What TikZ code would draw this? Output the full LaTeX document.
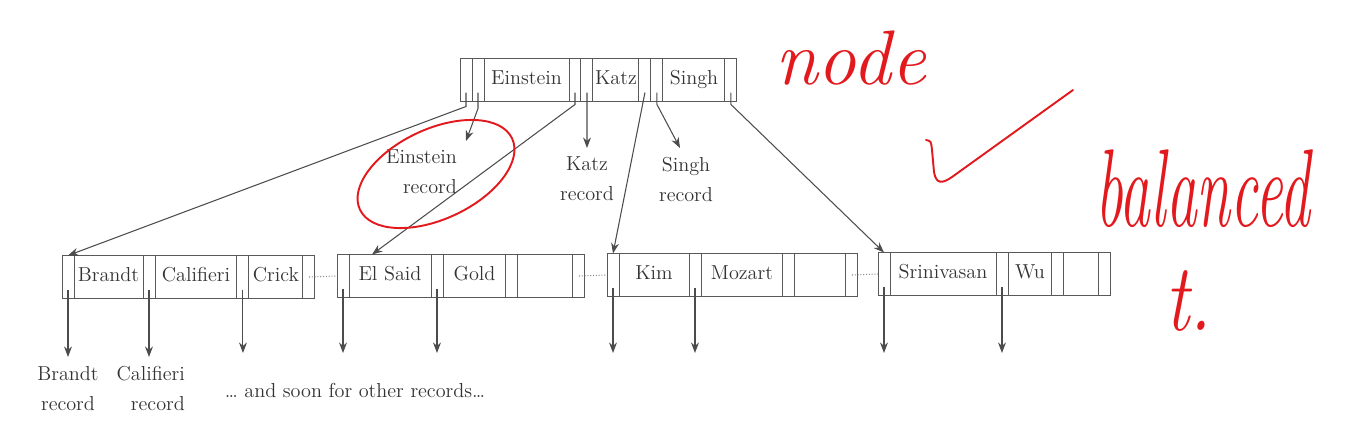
\documentclass[tikz,border=0pt]{standalone}
\usepackage{xcolor}
\usepackage{tikz}
\usetikzlibrary{positioning}
\usetikzlibrary{arrows.meta}
\definecolor{inkred}{RGB}{226,26,30}

\begin{document}
\begin{tikzpicture}[x=0.02cm, y=-0.02cm,
	every node/.style={font=\fontsize{11.5}{17}\selectfont, text=black!80},
	ptr/.style={draw=black!65, line width=0.55pt, minimum width=0.24cm, minimum height=0.86cm, inner sep=0pt, outer sep=0pt},
	key/.style={ptr, text height=1.6ex, text depth=0.45ex},
	link/.style={draw=black!70, line width=0.6pt, -{Stealth[length=6pt, width=4.5pt]}},
	nextleaf/.style={draw=black!45, line width=0.6pt, densely dotted},
	rec/.style={inner sep=5pt},
	ink/.style={draw=inkred, line width=1.1pt, line cap=round, line join=round},
	hand/.style={text=inkred, anchor=base west, inner sep=0pt}]

	\useasboundingbox (0,0) rectangle (1346,440);

	\node [ptr, anchor=west] (r1) at (460,80) {};
	\node [ptr] (r2) [right=0pt of r1] {};
	\node [key, minimum width=1.70cm] (k1) [right=0pt of r2] {Einstein};
	\node [ptr] (r3) [right=0pt of k1] {};
	\node [ptr] (r4) [right=0pt of r3] {};
	\node [key, minimum width=0.92cm] (k2) [right=0pt of r4] {Katz};
	\node [ptr] (r5) [right=0pt of k2] {};
	\node [ptr] (r6) [right=0pt of r5] {};
	\node [key, minimum width=1.24cm] (k3) [right=0pt of r6] {Singh};
	\node [ptr] (r7) [right=0pt of k3] {};

	\node [ptr, anchor=west] (a1) at (62,277) {};
	\node [key, minimum width=1.38cm] (ka1) [right=0pt of a1] {Brandt};
	\node [ptr] (a2) [right=0pt of ka1] {};
	\node [key, minimum width=1.64cm] (ka2) [right=0pt of a2] {Califieri};
	\node [ptr] (a3) [right=0pt of ka2] {};
	\node [key, minimum width=1.08cm] (ka3) [right=0pt of a3] {Crick};
	\node [ptr] (a4) [right=0pt of ka3] {};

	\node [ptr, anchor=west] (b1) at (337,276) {};
	\node [key, minimum width=1.64cm] (kb1) [right=0pt of b1] {El Said};
	\node [ptr] (b2) [right=0pt of kb1] {};
	\node [key, minimum width=1.26cm] (kb2) [right=0pt of b2] {Gold};
	\node [ptr] (b3) [right=0pt of kb2] {};
	\node [key, minimum width=1.10cm] (kb3) [right=0pt of b3] {};
	\node [ptr] (b4) [right=0pt of kb3] {};

	\node [ptr, anchor=west] (c1) at (607,275) {};
	\node [key, minimum width=1.40cm] (kc1) [right=0pt of c1] {Kim};
	\node [ptr] (c2) [right=0pt of kc1] {};
	\node [key, minimum width=1.64cm] (kc2) [right=0pt of c2] {Mozart};
	\node [ptr] (c3) [right=0pt of kc2] {};
	\node [key, minimum width=1.02cm] (kc3) [right=0pt of c3] {};
	\node [ptr] (c4) [right=0pt of kc3] {};

	\node [ptr, anchor=west] (d1) at (878,274) {};
	\node [key, minimum width=2.12cm] (kd1) [right=0pt of d1] {Srinivasan};
	\node [ptr] (d2) [right=0pt of kd1] {};
	\node [key, minimum width=0.88cm] (kd2) [right=0pt of d2] {Wu};
	\node [ptr] (d3) [right=0pt of kd2] {};
	\node [key, minimum width=0.70cm] (kd3) [right=0pt of d3] {};
	\node [ptr] (d4) [right=0pt of kd3] {};

	\node [rec, align=right, anchor=north east] (erec) at (466,141) {Einstein\\record};
	\node [rec, align=center, anchor=north] (krec) at (587,148) {Katz\\record};
	\node [rec, align=center, anchor=north] (srec) at (686,148) {Singh\\record};
	\node [rec, align=center, anchor=north] (brec) at (68,357) {Brandt\\record};
	\node [rec, align=right, anchor=north east] (crec) at (194,357) {Califieri\\record};
	\node [anchor=base] (more) at (355,397) {\dots\ and soon for other records\dots};
	\coordinate (bot) at (0,353);

	\draw [link] ([yshift=.18cm]r1.south) -- ++(0,14) -- (a1.north);
	\draw [link] ([yshift=.18cm]r2.south) -- ++(0,16) -- (erec.north east);
	\draw [link] ([yshift=.18cm]r3.south) -- ++(0,12) -- ([xshift=.46cm]kb1.north west);
	\draw [link] ([yshift=.18cm]r4.south) -- (krec.north);
	\draw [link] ([yshift=.18cm]r5.south) -- (c1.north);
	\draw [link] ([yshift=.18cm]r6.south) -- ++(0,12) -- ([xshift=-.12cm]srec.north);
	\draw [link] ([yshift=.18cm]r7.south) -- ++(0,12) -- (d1.north);

	\draw [link] ([yshift=.18cm]a1.south) -- (a1.south |- brec.north);
	\draw [link] ([yshift=.18cm]a2.south) -- (a2.south |- crec.north);
	\foreach \p in {a3,b1,b2,c1,c2,d1,d2}
		\draw [link] ([yshift=.18cm]\p.south) -- (\p.south |- bot);

	\draw [nextleaf] (a4.center) -- (b1.west);
	\draw [nextleaf] (b4.center) -- (c1.west);
	\draw [nextleaf] (c4.center) -- (d1.west);

	\draw [ink, rotate around={25:(436,174)}] (436,174) ellipse [x radius=1.68cm, y radius=0.9cm];
	\draw [ink] (926,140) .. controls (931,141) .. (932,150) -- (934,172) .. controls (936,184) and (942,184) .. (952,177) -- (1073,90);
	\node [hand, font=\fontsize{44}{44}\selectfont\itshape] (tnode) at (775,84) {node};
	\node [hand, font=\fontsize{35}{35}\selectfont\itshape, yscale=1.8] (tbal) at (1095,226) {balanced};
	\node [hand, font=\fontsize{42}{42}\selectfont\itshape, yscale=1.3] (ttree) at (1165,330) {t.};

\end{tikzpicture}
\end{document}
